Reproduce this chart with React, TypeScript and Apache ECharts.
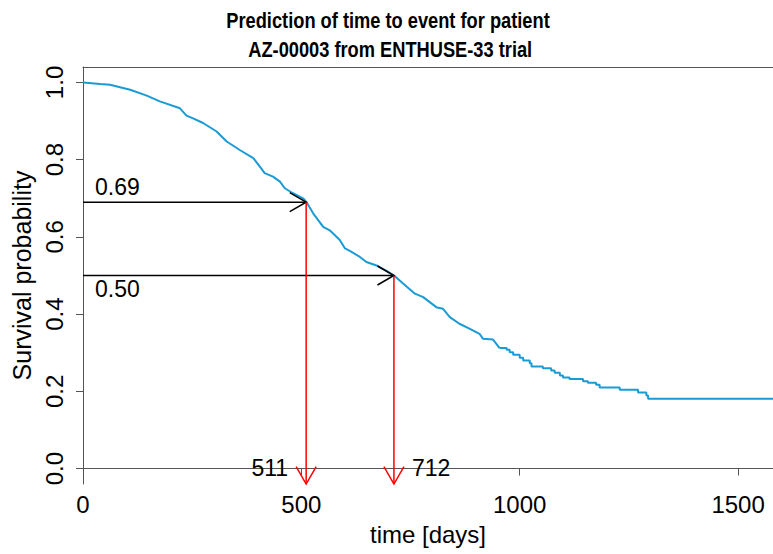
import React, { useEffect, useRef } from "react";
import * as echarts from "echarts";

// ---- data ----
const titleLines = ["Prediction of time to event for patient", " AZ-00003 from ENTHUSE-33 trial"];
const xTicks = [0, 500, 1000, 1500];
const yTicks = [0, 0.2, 0.4, 0.6, 0.8, 1.0];

// smooth-looking early part of the predicted survival curve
const curveTimes = [0, 39, 62, 108, 146, 176, 222, 237, 252, 275, 306, 329, 359, 390, 405, 416, 435, 451, 462, 481, 504, 512, 527, 550, 565, 588, 600, 611, 634, 649, 672, 695, 712, 733, 760, 779, 794, 809, 824, 840, 862, 886, 908, 916, 939, 954];
const curveSurv = [1.0, 0.996, 0.994, 0.981, 0.966, 0.951, 0.933, 0.914, 0.907, 0.895, 0.873, 0.847, 0.825, 0.804, 0.782, 0.765, 0.756, 0.743, 0.726, 0.713, 0.7, 0.69, 0.661, 0.626, 0.617, 0.592, 0.57, 0.564, 0.548, 0.535, 0.526, 0.512, 0.5, 0.479, 0.453, 0.444, 0.431, 0.418, 0.414, 0.392, 0.375, 0.362, 0.349, 0.336, 0.334, 0.312];

// stepped tail of the curve
const tailTimes = [954, 970, 977, 985, 1000, 1008, 1023, 1027, 1053, 1072, 1080, 1092, 1099, 1114, 1145, 1156, 1175, 1183, 1229, 1271, 1290, 1294, 1580];
const tailSurv = [0.312, 0.308, 0.301, 0.295, 0.287, 0.28, 0.273, 0.264, 0.26, 0.254, 0.248, 0.241, 0.236, 0.232, 0.226, 0.222, 0.217, 0.21, 0.204, 0.197, 0.189, 0.181, 0.181];

// predictions
const predTimes = [511, 712];
const predProbs = [0.69, 0.5];

const X_MIN = 0;
const X_MAX = 1580;
const Y_MIN = -0.04;
const Y_MAX = 1.04;

const FONT = "'Liberation Sans', Arial, Helvetica, sans-serif";
const AXIS_COLOR = "#555";
const CURVE_COLOR = "#1a9bd4";

function arrowHead(end: number[], start: number[], L: number) {
  const ang = Math.atan2(end[1] - start[1], end[0] - start[0]);
  const a = Math.PI / 6;
  return [
    [end[0] - L * Math.cos(ang - a), end[1] - L * Math.sin(ang - a)],
    [end[0], end[1]],
    [end[0] - L * Math.cos(ang + a), end[1] - L * Math.sin(ang + a)],
  ];
}

export default function App() {
  const ref = useRef<HTMLDivElement>(null);

  useEffect(() => {
    if (!ref.current) return;
    const chart = echarts.init(ref.current, null, { renderer: "svg" });

    const horizArrows = predTimes.map((t, i) => [X_MIN, predProbs[i], t, predProbs[i]]);
    const vertArrows = predTimes.map((t, i) => [t, predProbs[i], t, Y_MIN]);

    const option: any = {
      animation: false,
      backgroundColor: "#fff",
      graphic: titleLines.map((line, i) => ({
        type: "text",
        x: 388,
        y: 20 + i * 29,
        scaleX: 0.83,
        style: {
          text: line,
          fontSize: 22,
          fontWeight: "bold",
          fontFamily: FONT,
          fill: "#000",
          align: "center",
          verticalAlign: "middle",
        },
      })),
      grid: {
        left: 83,
        right: 0,
        top: 67,
        bottom: 70,
        containLabel: false,
        outerBoundsMode: "none",
        show: false,
      },
      xAxis: [
        {
          type: "value",
          min: X_MIN,
          max: X_MAX,
          position: "bottom",
          axisLine: { show: true, lineStyle: { color: AXIS_COLOR, width: 1 } },
          axisTick: { show: true, length: 7, customValues: xTicks, lineStyle: { color: AXIS_COLOR } },
          axisLabel: {
            customValues: xTicks,
            fontSize: 24,
            color: "#000",
            margin: 8,
            fontFamily: FONT,
            formatter: (v: number) => String(v),
          },
          splitLine: { show: false },
          name: "time [days]",
          nameLocation: "middle",
          nameGap: 38,
          nameTextStyle: { fontSize: 24, color: "#000", fontFamily: FONT },
        },
        {
          type: "value",
          min: X_MIN,
          max: X_MAX,
          position: "top",
          axisLine: { show: true, lineStyle: { color: AXIS_COLOR, width: 1 } },
          axisTick: { show: false },
          axisLabel: { show: false },
          splitLine: { show: false },
        },
      ],
      yAxis: {
        type: "value",
        min: Y_MIN,
        max: Y_MAX,
        axisLine: { show: true, lineStyle: { color: AXIS_COLOR, width: 1 } },
        axisTick: { show: true, length: 7, customValues: yTicks, lineStyle: { color: AXIS_COLOR } },
        axisLabel: {
          customValues: yTicks,
          rotate: 90,
          fontSize: 24,
          color: "#000",
          margin: 17,
          fontFamily: FONT,
          formatter: (v: number) => v.toFixed(1),
        },
        splitLine: { show: false },
        name: "Survival probability",
        nameLocation: "middle",
        nameGap: 49,
        nameRotate: 90,
        nameTextStyle: { fontSize: 25, color: "#000", fontFamily: FONT },
      },
      series: [
        {
          type: "line",
          data: curveTimes.map((t, i) => [t, curveSurv[i]]),
          showSymbol: false,
          symbol: "none",
          lineStyle: { color: CURVE_COLOR, width: 2 },
          z: 3,
        },
        {
          type: "line",
          step: "end",
          data: tailTimes.map((t, i) => [t, tailSurv[i]]),
          showSymbol: false,
          symbol: "none",
          lineStyle: { color: CURVE_COLOR, width: 2 },
          z: 3,
        },
        {
          type: "custom",
          clip: false,
          z: 4,
          data: horizArrows,
          renderItem: (params: any, api: any) => {
            const s = api.coord([api.value(0), api.value(1)]);
            const e = api.coord([api.value(2), api.value(3)]);
            const above = params.dataIndex === 0;
            return {
              type: "group",
              children: [
                {
                  type: "line",
                  shape: { x1: s[0], y1: s[1], x2: e[0], y2: e[1] },
                  style: { stroke: "#000", lineWidth: 1.5 },
                },
                {
                  type: "polyline",
                  shape: { points: arrowHead(e, s, 19) },
                  style: { stroke: "#000", lineWidth: 1.5, fill: null },
                },
                {
                  type: "text",
                  x: s[0] + 12,
                  y: e[1] + (above ? -15 : 13),
                  style: {
                    text: Number(api.value(1)).toFixed(2),
                    fontSize: 23,
                    fontFamily: FONT,
                    fill: "#000",
                    align: "left",
                    verticalAlign: "middle",
                  },
                },
              ],
            };
          },
        },
        {
          type: "custom",
          clip: false,
          z: 4,
          data: vertArrows,
          renderItem: (params: any, api: any) => {
            const s = api.coord([api.value(0), api.value(1)]);
            const e = api.coord([api.value(2), api.value(3)]);
            const left = params.dataIndex === 0;
            return {
              type: "group",
              children: [
                {
                  type: "line",
                  shape: { x1: s[0], y1: s[1], x2: e[0], y2: e[1] },
                  style: { stroke: "#ff0000", lineWidth: 1.5 },
                },
                {
                  type: "polyline",
                  shape: { points: arrowHead(e, s, 20) },
                  style: { stroke: "#ff0000", lineWidth: 1.5, fill: null },
                },
                {
                  type: "text",
                  x: e[0] + (left ? -18 : 18),
                  y: e[1] - 16,
                  style: {
                    text: String(Math.round(api.value(0))),
                    fontSize: 23,
                    fontFamily: FONT,
                    fill: "#000",
                    align: left ? "right" : "left",
                    verticalAlign: "middle",
                  },
                },
              ],
            };
          },
        },
      ],
    };

    chart.setOption(option);
    return () => chart.dispose();
  }, []);

  return (
    <div
      ref={ref}
      style={{ position: "absolute", left: 0, top: 0, width: 773, height: 554, background: "#fff" }}
    />
  );
}
